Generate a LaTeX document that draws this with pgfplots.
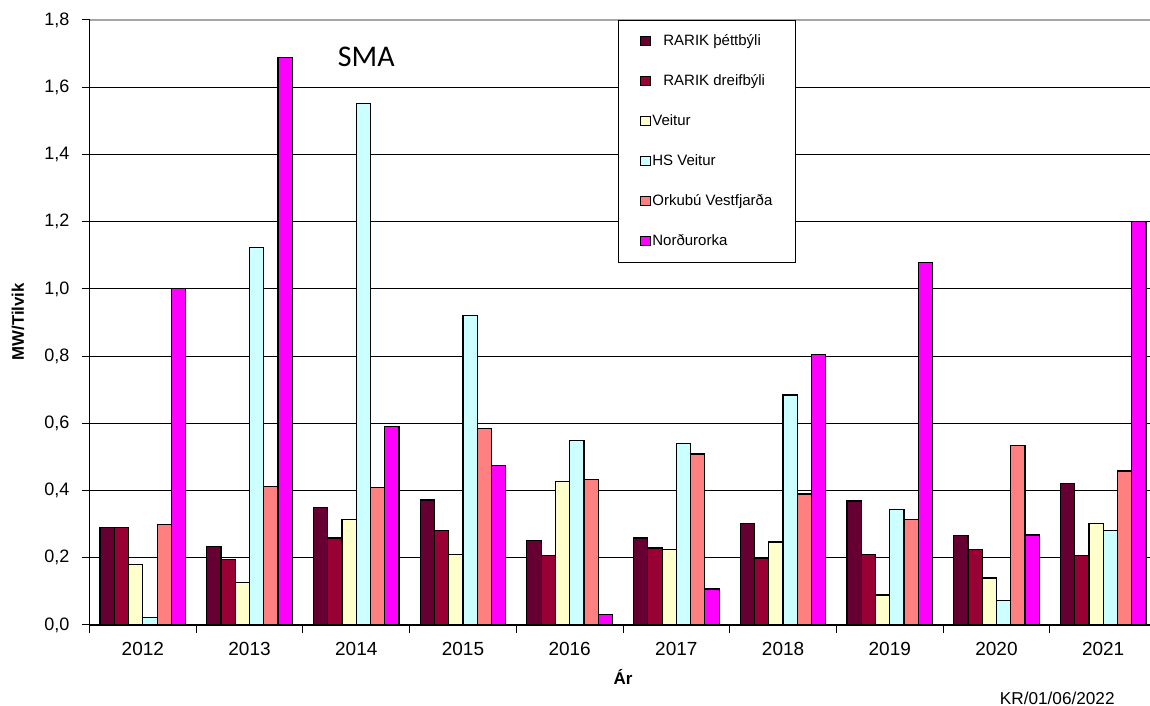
\documentclass[border=0pt]{standalone}
\usepackage{pgfplots}
\pgfplotsset{compat=1.18}
\usepackage{pgfplotstable}
\usepackage{fontspec}
\setmainfont{Liberation Sans}
\newfontfamily\calibri{Carlito}
\definecolor{cA}{HTML}{660033}
\definecolor{cB}{HTML}{990033}
\definecolor{cC}{HTML}{FFFFCC}
\definecolor{cD}{HTML}{CCFFFF}
\definecolor{cE}{HTML}{FF8080}
\definecolor{cF}{HTML}{FF00FF}
\pgfplotstableread{
x r1 r2 v hs o n
0 0.291 0.291 0.181 0.023 0.298 1.000
1 0.233 0.196 0.126 1.123 0.412 1.688
2 0.350 0.259 0.314 1.551 0.408 0.590
3 0.372 0.280 0.210 0.921 0.585 0.475
4 0.251 0.207 0.428 0.548 0.434 0.031
5 0.259 0.229 0.225 0.541 0.509 0.107
6 0.302 0.199 0.247 0.684 0.390 0.805
7 0.369 0.210 0.089 0.343 0.313 1.079
8 0.266 0.225 0.140 0.074 0.534 0.268
9 0.420 0.207 0.302 0.280 0.458 1.200
}\data
\begin{document}
\begin{tikzpicture}
\useasboundingbox (0,0) rectangle (575pt,353pt);
\begin{axis}[
  scale only axis,
  width=530.25pt, height=302.5pt,
  at={(44.75pt,40.5pt)}, anchor=south west,
  ybar=0pt, bar width=7.13pt,
  xmin=-0.5, xmax=9.439, ymin=0, ymax=1.8,
  enlargelimits=false,
  axis lines=left, axis line style={-, line width=0.6pt, black},
  xtick={0,...,9},
  xticklabels={2012,2013,2014,2015,2016,2017,2018,2019,2020,2021},
  major x tick style={draw=none},
  minor xtick={-0.5,0.5,...,8.5},
  minor x tick style={black, line width=0.5pt},
  minor tick length=4pt,
  ytick={0,0.2,...,1.61},
  extra y ticks={1.8},
  extra y tick style={grid=major, major grid style={gray!70, line width=1pt}},
  tick align=outside,
  major tick length=4pt,
  y tick style={black, line width=0.5pt},
  ymajorgrids,
  major grid style={black, line width=0.5pt},
  yticklabel style={font=\fontsize{9}{10.8}\selectfont, /pgf/number format/.cd, fixed, fixed zerofill, precision=1, use comma, /tikz/.cd, xshift=-2.5pt},
  /pgf/number format/assume math mode=true,
  xticklabel style={font=\fontsize{9.5}{11.4}\selectfont, yshift=-1.2pt},
  ylabel={\bfseries MW/Tilvik},
  ylabel style={at={(axis description cs:-0.0674,0.501)}, anchor=center, font=\fontsize{8.4}{10}\selectfont},
  xlabel={\bfseries Ár},
  xlabel style={at={(axis description cs:0.503,-0.086)}, anchor=center, font=\fontsize{8.5}{10}\selectfont},
  every axis plot/.append style={draw=black, line width=0.6pt},
  legend cell align=left,
  legend image code/.code={\draw[#1, line width=0.5pt] (0pt,-2pt) rectangle (5pt,2.5pt);},
  legend style={at={(axis description cs:0.498,1)}, anchor=north west, draw=black, line width=0.5pt,
    fill=white, font=\fontsize{7.5}{9}\selectfont, row sep=12pt,
    inner xsep=11pt, inner ysep=6.5pt,
    nodes={inner xsep=0.6pt, inner ysep=0pt, text height=6pt, text depth=2pt}},
]
\addplot[fill=cA] table[x=x,y=r1]{\data};
\addplot[fill=cB] table[x=x,y=r2]{\data};
\addplot[fill=cC] table[x=x,y=v]{\data};
\addplot[fill=cD] table[x=x,y=hs]{\data};
\addplot[fill=cE] table[x=x,y=o]{\data};
\addplot[fill=cF] table[x=x,y=n]{\data};
\legend{\hspace{5.5pt}RARIK þéttbýli,\hspace{5.5pt}RARIK dreifbýli,Veitur,HS Veitur,Orkubú Vestfjarða,Norðurorka}
\node[font=\calibri\fontsize{15}{18}\selectfont] at (axis description cs:0.261,0.939) {SMA};
\end{axis}
\node[font=\fontsize{8.6}{10}\selectfont, anchor=base east, inner sep=0pt] at (557.5pt,0.6pt) {KR/01/06/2022};
\end{tikzpicture}
\end{document}
